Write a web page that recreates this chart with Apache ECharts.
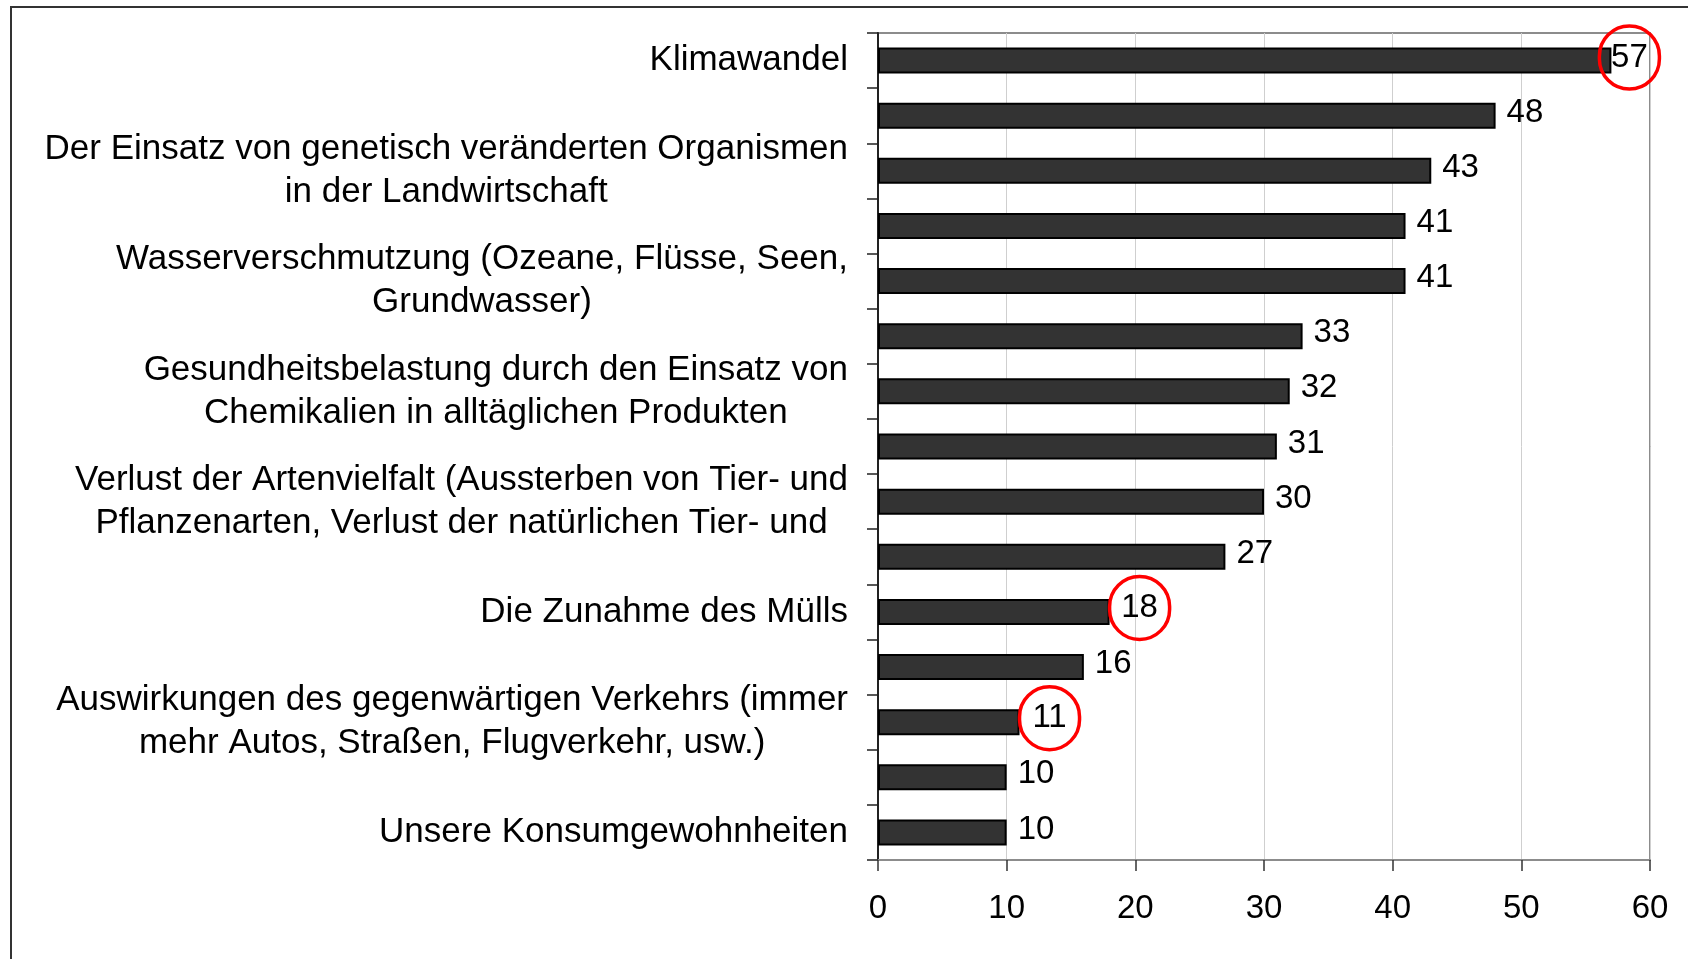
<!DOCTYPE html>
<html>
<head>
<meta charset="utf-8">
<script src="https://cdn.jsdelivr.net/npm/echarts@6/dist/echarts.min.js"></script>
<style>
html,body{margin:0;padding:0;background:#fff;}
#chart{width:1688px;height:959px;}
</style>
</head>
<body>
<div id="chart"></div>
<script>
const categories = [
  'Klimawandel',
  '',
  'Der Einsatz von genetisch veränderten Organismen\nin der Landwirtschaft',
  '',
  'Wasserverschmutzung (Ozeane, Flüsse, Seen,\nGrundwasser)',
  '',
  'Gesundheitsbelastung durch den Einsatz von\nChemikalien in alltäglichen Produkten',
  '',
  'Verlust der Artenvielfalt (Aussterben von Tier- und\nPflanzenarten, Verlust der natürlichen Tier- und',
  '',
  'Die Zunahme des Mülls',
  '',
  'Auswirkungen des gegenwärtigen Verkehrs (immer\nmehr Autos, Straßen, Flugverkehr, usw.)',
  '',
  'Unsere Konsumgewohnheiten'
];
const values = [57, 48, 43, 41, 41, 33, 32, 31, 30, 27, 18, 16, 11, 10, 10];
const highlighted = [0, 10, 12];
const xTicks = [0, 10, 20, 30, 40, 50, 60];

const FONT = '"Liberation Sans", Arial, sans-serif';

const seriesData = values.map((v, i) => {
  const item = { value: v };
  if (highlighted.includes(i)) {
    item.label = { distance: 0, offset: i === 0 ? [-12, -3] : [0, -4] };
  }
  return item;
});

const chart = echarts.init(document.getElementById('chart'));
chart.setOption({
  backgroundColor: '#fff',
  animation: false,
  graphic: [{
    type: 'rect',
    shape: { x: 11, y: 7, width: 2000, height: 2000 },
    style: { fill: 'none', stroke: '#333', lineWidth: 2 },
    z: 100
  }],
  grid: {
    left: 878, right: 38, top: 33, bottom: 99,
    show: true, borderColor: '#8c8c8c', borderWidth: 2
  },
  xAxis: {
    type: 'value',
    min: xTicks[0], max: xTicks[xTicks.length - 1], interval: 10,
    axisLine: { show: true, lineStyle: { color: '#8c8c8c', width: 2 } },
    axisTick: { show: true, length: 11, lineStyle: { color: '#333', width: 1.5 } },
    splitLine: { show: true, lineStyle: { color: '#cfcfcf', width: 1 } },
    axisLabel: { fontSize: 33, color: '#000', fontFamily: FONT, margin: 32 }
  },
  yAxis: {
    type: 'category',
    inverse: true,
    data: categories,
    axisLine: { show: true, lineStyle: { color: '#222', width: 2 } },
    axisTick: { show: true, length: 11, lineStyle: { color: '#222', width: 1.5 } },
    axisLabel: {
      interval: 0,
      margin: 30,
      fontSize: 35,
      fontFamily: FONT,
      color: '#000',
      lineHeight: 43,
      formatter: (v) => v ? v.split('\n').map(l => '{c|' + l + '}').join('\n') : '',
      rich: { c: { align: 'center', fontSize: 35, fontFamily: FONT, color: '#000', lineHeight: 43 } }
    }
  },
  series: [{
    type: 'bar',
    data: seriesData,
    barWidth: 26,
    itemStyle: { color: '#333333', borderColor: '#000', borderWidth: 2 },
    label: {
      show: true,
      position: 'right',
      distance: 11,
      offset: [0, -3],
      fontSize: 33,
      fontFamily: FONT,
      color: '#000',
      formatter: (p) => highlighted.includes(p.dataIndex) ? '{h|' + p.value + '}' : '{n|' + p.value + '}',
      rich: {
        n: { fontSize: 33, fontFamily: FONT, color: '#000' },
        h: {
          fontSize: 33, fontFamily: FONT, color: '#000',
          width: 60, height: 63, align: 'center', verticalAlign: 'middle',
          borderColor: '#f00', borderWidth: 3.5, borderRadius: 31
        }
      }
    }
  }]
});
</script>
</body>
</html>
